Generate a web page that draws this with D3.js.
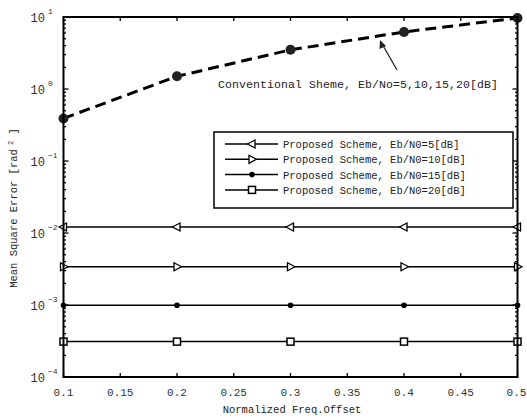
<!DOCTYPE html>
<html><head><meta charset="utf-8">
<script src="https://cdn.jsdelivr.net/npm/d3@7"></script>
<style>body{margin:0;background:#fff}svg{display:block}</style>
</head><body>
<script>
const xValues = [0.1, 0.2, 0.3, 0.4, 0.5];
const conventional = [0.39, 1.5, 3.5, 6.2, 9.7];
const proposed5 = [0.0121, 0.0121, 0.0121, 0.0121, 0.0121];
const proposed10 = [0.0034, 0.0034, 0.0034, 0.0034, 0.0034];
const proposed15 = [0.00099, 0.00099, 0.00099, 0.00099, 0.00099];
const proposed20 = [0.00031, 0.00031, 0.00031, 0.00031, 0.00031];
const xTicks = [0.1, 0.15, 0.2, 0.25, 0.3, 0.35, 0.4, 0.45, 0.5];
const yExponents = [1, 0, -1, -2, -3, -4];
const legendLabels = ["Proposed Scheme, Eb/N0=5[dB]", "Proposed Scheme, Eb/N0=10[dB]", "Proposed Scheme, Eb/N0=15[dB]", "Proposed Scheme, Eb/N0=20[dB]"];
const annotationText = "Conventional Sheme, Eb/No=5,10,15,20[dB]";
const xTitle = "Normalized Freq.Offset";

const W = 527, H = 419;
const m = {l: 63.5, r: 517.5, t: 17, b: 377};
const font = "'Liberation Mono', 'DejaVu Sans Mono', monospace";
const svg = d3.select("body").append("svg").attr("width", W).attr("height", H);

const x = d3.scaleLinear().domain([0.1, 0.5]).range([m.l, m.r]);
const y = d3.scaleLog().domain([1e-4, 10]).range([m.b, m.t]);

// ticks
const tickLen = 4;
const g = svg.append("g").attr("stroke", "#000").attr("stroke-width", 1.3);
xTicks.forEach(t => {
  g.append("line").attr("x1", x(t)).attr("x2", x(t)).attr("y1", m.b).attr("y2", m.b - tickLen);
  g.append("line").attr("x1", x(t)).attr("x2", x(t)).attr("y1", m.t).attr("y2", m.t + tickLen);
});
for (let e = -4; e < 1; e++) {
  for (let k = 1; k < 10; k++) {
    const v = k * Math.pow(10, e);
    const len = k === 1 ? 5 : 2.5;
    g.append("line").attr("x1", m.l).attr("x2", m.l + len).attr("y1", y(v)).attr("y2", y(v));
    g.append("line").attr("x1", m.r).attr("x2", m.r - len).attr("y1", y(v)).attr("y2", y(v));
  }
}

// tick labels
svg.append("g").selectAll("text").data(xTicks).join("text")
  .attr("x", (d, i) => i === xTicks.length - 1 ? Math.min(x(d), W - 10.5) : x(d)).attr("y", 396).attr("text-anchor", "middle")
  .attr("font-family", font).attr("font-size", 11).attr("fill", "#333")
  .text(d => d3.format(".2~f")(d));

const yl = svg.append("g");
yExponents.forEach(e => {
  yl.append("text").attr("x", 45).attr("y", y(Math.pow(10, e)) + 5)
    .attr("text-anchor", "end").attr("font-family", font).attr("font-size", 12).attr("fill", "#333").text("10");
  yl.append("text").attr("x", 48).attr("y", y(Math.pow(10, e)) - 3)
    .attr("font-family", font).attr("font-size", 8).attr("fill", "#333")
    .text(e < 0 ? "\u2212" + (-e) : String(e));
});

// axis titles
svg.append("text").attr("x", 292).attr("y", 413).attr("text-anchor", "middle")
  .attr("font-family", font).attr("font-size", 10.5).attr("fill", "#222").text(xTitle);
const yt = svg.append("text").attr("transform", "translate(17,208) rotate(-90)").attr("text-anchor", "middle")
  .attr("font-family", font).attr("font-size", 10.5).attr("fill", "#222");
yt.append("tspan").text("Mean Square Error [rad");
yt.append("tspan").attr("font-size", 7).attr("dy", -4).text(" 2");
yt.append("tspan").attr("dy", 4).text(" ]");

// lines
const line = d3.line().x((d, i) => x(xValues[i])).y(d => y(d));
const plot = svg.append("g");

const proposed = [proposed5, proposed10, proposed15, proposed20];
const markers = ["triL", "triR", "dot", "sq"];

function drawMarker(sel, type, cx, cy) {
  if (type === "triL") {
    sel.append("path").attr("d", `M${cx-4.5},${cy} L${cx+3},${cy-4} L${cx+3},${cy+4} Z`)
      .attr("fill", "#fff").attr("stroke", "#000").attr("stroke-width", 1.3);
  } else if (type === "triR") {
    sel.append("path").attr("d", `M${cx+4.5},${cy} L${cx-3},${cy-4} L${cx-3},${cy+4} Z`)
      .attr("fill", "#fff").attr("stroke", "#000").attr("stroke-width", 1.3);
  } else if (type === "dot") {
    sel.append("circle").attr("cx", cx).attr("cy", cy).attr("r", 2.8).attr("fill", "#000");
  } else if (type === "sq") {
    sel.append("rect").attr("x", cx - 3.5).attr("y", cy - 3.5).attr("width", 7).attr("height", 7)
      .attr("fill", "#fff").attr("stroke", "#000").attr("stroke-width", 1.5);
  }
}

proposed.forEach((arr, s) => {
  plot.append("path").datum(arr).attr("d", line).attr("fill", "none").attr("stroke", "#000").attr("stroke-width", 1.5);
  arr.forEach((v, i) => drawMarker(plot, markers[s], x(xValues[i]), y(v)));
});

plot.append("path").datum(conventional).attr("d", line).attr("fill", "none")
  .attr("stroke", "#000").attr("stroke-width", 3).attr("stroke-dasharray", "11,6");
conventional.forEach((v, i) => plot.append("circle").attr("cx", x(xValues[i])).attr("cy", y(v)).attr("r", 5).attr("fill", "#222"));

// frame
svg.append("rect").attr("x", m.l).attr("y", m.t).attr("width", m.r - m.l).attr("height", m.b - m.t)
  .attr("fill", "none").attr("stroke", "#000").attr("stroke-width", 2);

// annotation
svg.append("text").attr("x", 218).attr("y", 88).attr("font-family", font).attr("font-size", 11.5)
  .attr("fill", "#222").attr("textLength", 280).text(annotationText);
svg.append("line").attr("x1", 397).attr("y1", 70).attr("x2", 381).attr("y2", 42).attr("stroke", "#222").attr("stroke-width", 1.3);
svg.append("path").attr("d", "M380,40 L379.5,49 L386,46 Z").attr("fill", "#222");

// legend
const lg = svg.append("g");
lg.append("rect").attr("x", 214).attr("y", 132).attr("width", 299).attr("height", 76)
  .attr("fill", "#fff").attr("stroke", "#000").attr("stroke-width", 1.5);
legendLabels.forEach((lab, i) => {
  const cy = 144 + i * 15.3;
  lg.append("line").attr("x1", 225).attr("x2", 278).attr("y1", cy).attr("y2", cy).attr("stroke", "#000").attr("stroke-width", 1.5);
  drawMarker(lg, markers[i], 252, cy);
  lg.append("text").attr("x", 283).attr("y", cy + 4).attr("font-family", font).attr("font-size", 10.5)
    .attr("fill", "#222").text(lab);
});
</script>
</body></html>
